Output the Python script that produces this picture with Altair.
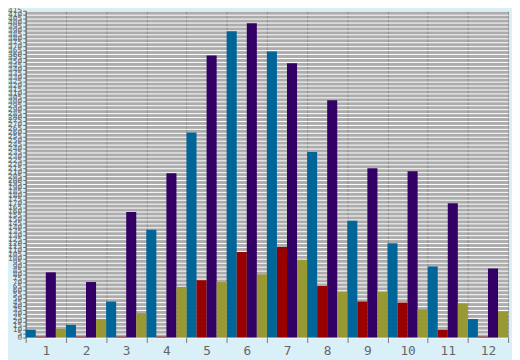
import altair as alt
import pandas as pd

months = [str(i) for i in range(1, 13)]
series = ["A", "B", "C", "D"]
colors = ["#006699", "#990000", "#330066", "#999933"]

blue = [9.9, 16.1, 45.7, 137, 260.4, 389.1, 363.2, 235.5, 148.4, 119.8, 90.3, 23.5]
red = [1.2, 1.2, 1.2, 1.2, 72.8, 108.7, 114.9, 65.5, 45.7, 44.5, 9.9, 1.2]
purple = [82.8, 70.5, 159.4, 208.8, 358.2, 399, 348.3, 301.4, 214.9, 211.3, 170.5, 87.7]
olive = [11.1, 23.5, 30.9, 64.2, 70.5, 80.3, 98.8, 58.1, 58.1, 35.8, 43.3, 33.3]

y_ticks = list(range(0, 416, 5))

rows = []
for s, vals in zip(series, [blue, red, purple, olive]):
    for m, v in zip(months, vals):
        rows.append({"month": m, "series": s, "value": v})
df = pd.DataFrame(rows)

chart = alt.Chart(df).mark_bar().encode(
    x=alt.X(
        "month:N", sort=months,
        scale=alt.Scale(paddingInner=0, paddingOuter=0),
        axis=alt.Axis(title=None, labelAngle=0, tickBand="extent", grid=True,
                      gridColor="#8c8c8c", gridOpacity=1, domain=False,
                      tickColor="#777777", tickSize=5, labelColor="#666666",
                      labelFont="DejaVu Sans Mono", labelFontSize=13, labelPadding=2),
    ),
    xOffset=alt.XOffset("series:N", sort=series,
                        scale=alt.Scale(paddingInner=0, paddingOuter=0)),
    y=alt.Y(
        "value:Q",
        scale=alt.Scale(domain=[0, 415], nice=False),
        axis=alt.Axis(title=None, values=y_ticks, grid=True, gridColor="#ffffff",
                      gridOpacity=1, gridWidth=1, labelOverlap=False,
                      labelColor="#666666", labelFont="DejaVu Sans Mono",
                      labelFontSize=8, tickColor="#666666", tickSize=3,
                      domainColor="#666666", labelPadding=1),
    ),
    color=alt.Color("series:N", scale=alt.Scale(domain=series, range=colors),
                    legend=None),
).properties(
    width=490, height=332,
    autosize=alt.AutoSizeParams(type="none"),
    padding={"left": 18, "top": 0, "right": 4, "bottom": 20},
).configure(
    background="#daf0f8",
).configure_view(
    fill="#acacac", stroke=None,
)

chart.save("out.html", embed_options={"renderer": "svg", "actions": False})
